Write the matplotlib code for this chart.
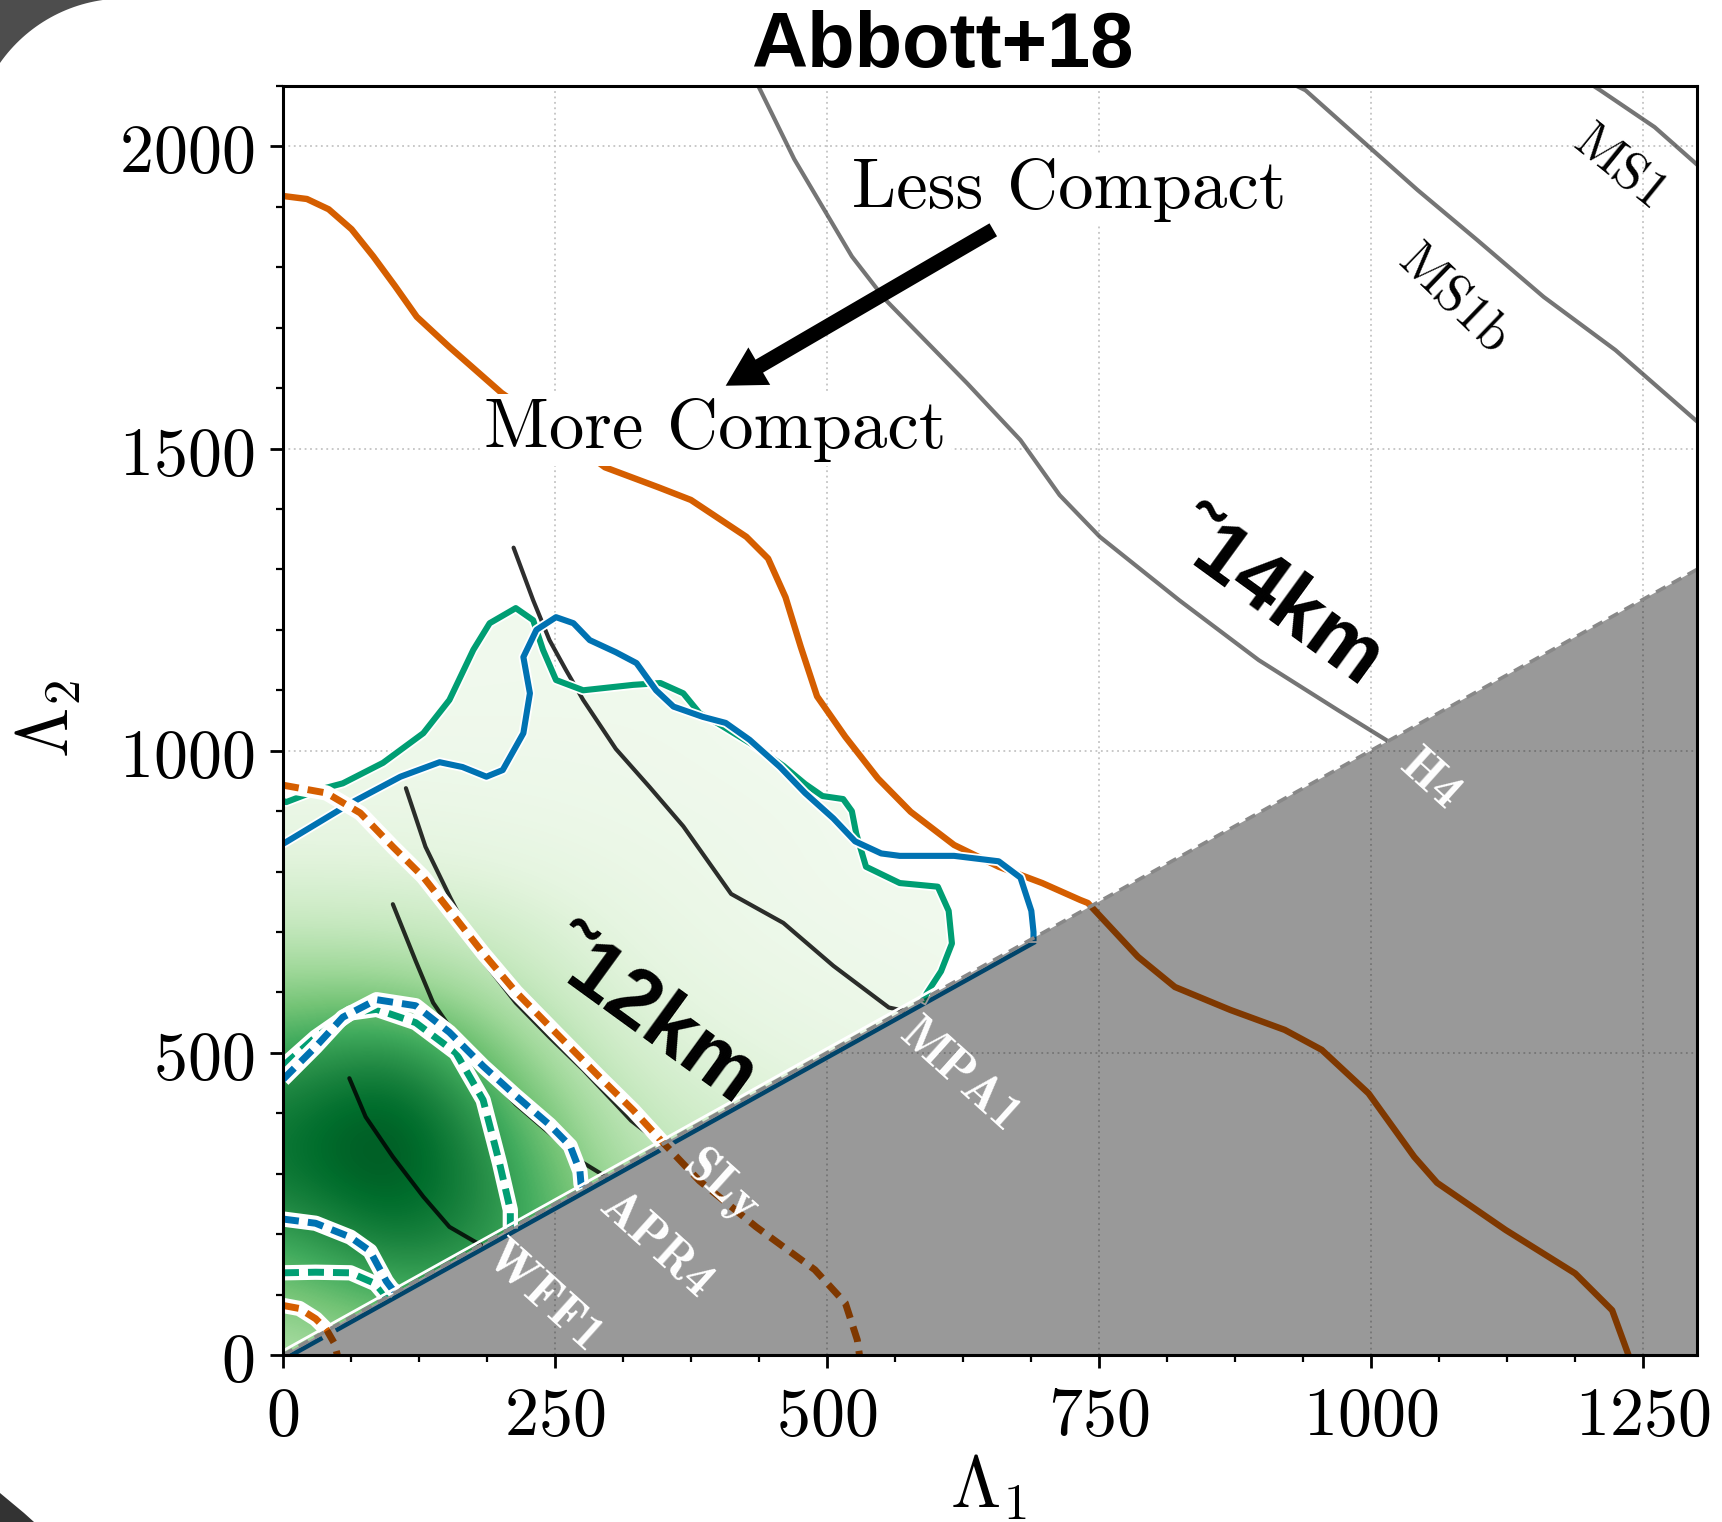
import numpy as np
import matplotlib
matplotlib.use("Agg")
import matplotlib.pyplot as plt
from matplotlib.patches import Polygon
from matplotlib.ticker import MultipleLocator, FuncFormatter
import matplotlib.patheffects as pe

plt.rcParams['mathtext.fontset'] = 'cm'
plt.rcParams['lines.solid_joinstyle'] = 'round'
plt.rcParams['lines.dash_joinstyle'] = 'round'

ORANGE = '#d55e00'
BLUE = '#0072b2'
GREEN = '#009e73'

# ---- 90% credible contours (solid) ----
orange90_l1 = [0, 22, 42, 63, 83, 103, 123, 153, 201, 250, 296, 345, 375, 426, 446, 462, 476, 491,
               517, 547, 577, 617, 658, 698, 733, 740, 786, 820, 871, 921, 955, 998, 1040, 1061,
               1124, 1188, 1222, 1237]
orange90_l2 = [1918, 1913, 1896, 1863, 1818, 1769, 1718, 1668, 1592, 1530, 1469, 1436, 1415, 1354,
               1318, 1254, 1172, 1090, 1023, 954, 899, 844, 808, 781, 753, 748, 659, 609, 571,
               538, 505, 433, 328, 285, 207, 135, 74, 0]

green90_l1 = [0, 3, 32, 55, 92, 129, 153, 175, 190, 214, 230, 239, 251, 276, 322, 347, 368, 383,
              400, 430, 460, 480, 496, 515, 523, 527, 536, 567, 602, 612, 615, 605, 592, 589]
green90_l2 = [917, 915, 935, 946, 980, 1029, 1084, 1167, 1211, 1236, 1216, 1167, 1117, 1100, 1109,
              1112, 1095, 1062, 1045, 1012, 975, 945, 925, 920, 900, 863, 808, 781, 775, 735,
              681, 635, 599, 589]

blue90_l1 = [0, 3, 62, 108, 144, 165, 187, 202, 221, 227, 221, 233, 251, 267, 282, 306, 325, 343,
             359, 386, 407, 429, 457, 480, 506, 526, 550, 567, 617, 658, 678, 688, 690, 690]
blue90_l2 = [846, 849, 913, 957, 981, 973, 957, 968, 1029, 1095, 1155, 1200, 1221, 1211, 1183,
             1163, 1145, 1100, 1073, 1056, 1046, 1018, 973, 930, 888, 850, 830, 826, 826, 817,
             790, 735, 700, 690]

# ---- 50% credible contours (dashed) ----
orange50_l1 = [0, 40, 71, 101, 129, 153, 184, 214, 251, 291, 322, 347, 383, 435, 489, 517, 528, 530]
orange50_l2 = [943, 930, 897, 841, 791, 736, 665, 601, 533, 460, 405, 356, 288, 212, 141, 86, 25, 0]
orange50_in_l1 = [0, 15, 30, 40, 47, 50]
orange50_in_l2 = [82, 77, 60, 42, 20, 0]

green50_l1 = [0, 30, 62, 86, 122, 159, 184, 199, 209, 209]
green50_l2 = [478, 526, 566, 572, 550, 500, 422, 318, 240, 209]
green50_in_l1 = [0, 30, 62, 85, 92, 95]
green50_in_l2 = [136, 137, 136, 118, 103, 95]

blue50_l1 = [0, 30, 55, 86, 122, 153, 184, 214, 245, 264, 273, 274, 276]
blue50_l2 = [456, 510, 559, 588, 578, 534, 478, 429, 381, 346, 304, 283, 276]
blue50_in_l1 = [0, 30, 62, 80, 95, 100, 104]
blue50_in_l2 = [225, 218, 195, 172, 122, 110, 104]

# ---- posterior density (fraction of colormap), coarse grid read from shading ----
dens_l1 = [0, 100, 200, 300, 400, 500, 600, 700]
dens_l2 = [0, 100, 200, 300, 400, 500, 600, 700, 800, 900, 1000, 1100, 1200, 1300]
dens = [
    [0.32, 0.40, 0.45, 0.35, 0.25, 0.18, 0.12, 0.08],
    [0.45, 0.62, 0.60, 0.45, 0.30, 0.22, 0.15, 0.10],
    [0.64, 0.88, 0.72, 0.42, 0.30, 0.22, 0.16, 0.11],
    [0.82, 1.00, 0.72, 0.34, 0.24, 0.18, 0.14, 0.10],
    [0.80, 1.00, 0.62, 0.28, 0.19, 0.14, 0.11, 0.08],
    [0.64, 0.80, 0.46, 0.21, 0.14, 0.10, 0.08, 0.06],
    [0.44, 0.46, 0.31, 0.16, 0.10, 0.08, 0.06, 0.05],
    [0.27, 0.26, 0.22, 0.12, 0.08, 0.06, 0.05, 0.04],
    [0.15, 0.15, 0.13, 0.09, 0.07, 0.05, 0.04, 0.04],
    [0.09, 0.09, 0.08, 0.07, 0.06, 0.05, 0.04, 0.04],
    [0.06, 0.06, 0.06, 0.06, 0.05, 0.04, 0.04, 0.04],
    [0.05, 0.05, 0.05, 0.05, 0.05, 0.04, 0.04, 0.04],
    [0.04, 0.04, 0.05, 0.05, 0.04, 0.04, 0.04, 0.04],
    [0.04, 0.04, 0.04, 0.04, 0.04, 0.04, 0.04, 0.04],
]

# ---- equation-of-state tracks ----
wff1_l1 = [61, 76, 101, 129, 153, 175, 182]
wff1_l2 = [458, 394, 328, 262, 212, 189, 182]
apr4_l1 = [101, 122, 138, 160, 184, 214, 245, 276, 296]
apr4_l2 = [746, 652, 583, 525, 472, 415, 367, 318, 296]
sly_l1 = [113, 131, 154, 184, 214, 245, 276, 306, 320, 347]
sly_l2 = [938, 841, 756, 652, 583, 526, 472, 415, 388, 350]
mpa1_l1 = [212, 230, 245, 260, 276, 306, 337, 368, 412, 460, 506, 557, 570]
mpa1_l2 = [1336, 1249, 1183, 1134, 1084, 1003, 940, 875, 763, 715, 644, 575, 570]
h4_l1 = [437, 470, 523, 554, 629, 678, 714, 751, 824, 897, 970, 1014]
h4_l2 = [2100, 1979, 1818, 1746, 1608, 1514, 1423, 1354, 1249, 1150, 1067, 1018]
ms1b_l1 = [932, 940, 988, 1043, 1098, 1159, 1225, 1300]
ms1b_l2 = [2100, 2093, 2016, 1928, 1845, 1751, 1663, 1545]
ms1_l1 = [1205, 1211, 1261, 1300]
ms1_l2 = [2100, 2093, 2032, 1970]

eos_names = ['WFF1', 'APR4', 'SLy', 'MPA1', 'H4']
eos_label_l1 = [239, 342, 402, 622, 1054]
eos_label_l2 = [96, 182, 278, 462, 952]

fig = plt.figure(figsize=(17.22, 15.22), dpi=100)
ax = fig.add_axes([283 / 1722, 1 - 1355 / 1522, 1414 / 1722, 1269 / 1522])

# grid
ax.grid(True, which='major', ls=(0, (1, 2)), color='#c4c4c4', lw=1.3, zorder=0.5)
ax.set_axisbelow(True)

# density shading clipped to the outer green contour
clip_pts = list(zip(green90_l1, green90_l2)) + [(0, 0)]
clip_poly = Polygon(clip_pts, closed=True, transform=ax.transData)
im = ax.imshow(np.array(dens), origin='lower', cmap='Greens', vmin=0, vmax=1,
               extent=[dens_l1[0] - 50, dens_l1[-1] + 50, dens_l2[0] - 50, dens_l2[-1] + 50],
               interpolation='bicubic', aspect='auto', zorder=1)
im.set_clip_path(clip_poly)

# EOS tracks
for l1, l2 in [(wff1_l1, wff1_l2), (apr4_l1, apr4_l2), (sly_l1, sly_l2), (mpa1_l1, mpa1_l2)]:
    ax.plot(l1, l2, color='black', lw=3, alpha=0.82, zorder=2, solid_capstyle='round')
for l1, l2 in [(h4_l1, h4_l2), (ms1b_l1, ms1b_l2), (ms1_l1, ms1_l2)]:
    ax.plot(l1, l2, color='#3a3a3a', lw=3, alpha=0.7, zorder=2)

# solid 90% contours
white_edge = [pe.Stroke(linewidth=7, foreground='white'), pe.Normal()]
ax.plot(orange90_l1, orange90_l2, color=ORANGE, lw=4.6, zorder=3)
ax.plot(green90_l1, green90_l2, color=GREEN, lw=4.4, zorder=3.1, path_effects=white_edge)
ax.plot(blue90_l1, blue90_l2, color=BLUE, lw=4.4, zorder=3.2, path_effects=white_edge)

# dashed 50% contours with white underlay
dashed = [(orange50_l1, orange50_l2, ORANGE), (orange50_in_l1, orange50_in_l2, ORANGE),
          (green50_l1, green50_l2, GREEN), (green50_in_l1, green50_in_l2, GREEN),
          (blue50_l1, blue50_l2, BLUE), (blue50_in_l1, blue50_in_l2, BLUE)]
for i, (l1, l2, c) in enumerate(dashed):
    ax.plot(l1, l2, color='white', lw=11, zorder=3.5 + 0.1 * i, solid_capstyle='butt')
    ax.plot(l1, l2, color=c, lw=5, dashes=(2.3, 1.3), zorder=3.55 + 0.1 * i)

# blue contour edge along the diagonal
ax.plot([8, 690], [0, 682], color=BLUE, lw=3.2, zorder=3)
ax.plot([0, 600], [7, 607], color='white', lw=2, zorder=4.4)

# excluded region
ax.add_patch(Polygon([(0, 0), (1300, 1300), (1300, 0)], closed=True, fc='black',
                     alpha=0.4, ec='none', zorder=5))
ax.plot([0, 1300], [0, 1300], color='#888888', lw=2.6, dashes=(3, 2), zorder=5.5)

# EOS labels
for name, x, y in zip(eos_names, eos_label_l1, eos_label_l2):
    ax.text(x, y, name, color='white', family='cmb10', size=36, rotation=-42,
            ha='center', va='center', zorder=6)
ax.text(1229, 1964, 'MS1', color='black', family='cmr10', size=38, rotation=-39,
        ha='center', va='center', zorder=6)
ax.text(1076, 1746, 'MS1b', color='black', family='cmr10', size=38, rotation=-44,
        ha='center', va='center', zorder=6)

ax.text(338, 561, '\u02dc12km', family='Liberation Sans', weight='bold', size=60,
        rotation=-36, ha='center', va='center', zorder=6)
ax.text(914, 1253, '\u02dc14km', family='Liberation Sans', weight='bold', size=60,
        rotation=-36, ha='center', va='center', zorder=6)

# compactness annotation
box = dict(facecolor='white', edgecolor='none', pad=3)
ax.text(523, 1898, 'Less Compact', family='cmr10', size=51, ha='left', va='baseline',
        bbox=box, zorder=7)
ax.text(185, 1501, 'More Compact', family='cmr10', size=51, ha='left', va='baseline',
        bbox=box, zorder=7)
ax.annotate('', xy=(407, 1604), xytext=(653, 1862),
            arrowprops=dict(arrowstyle='simple,head_length=0.7,head_width=0.78,tail_width=0.27',
                            mutation_scale=40, fc='black', ec='none', shrinkA=0, shrinkB=0),
            zorder=8)

ax.set_xlim(0, 1300)
ax.set_ylim(0, 2100)
ax.xaxis.set_major_locator(MultipleLocator(250))
ax.xaxis.set_minor_locator(MultipleLocator(62.5))
ax.yaxis.set_major_locator(MultipleLocator(500))
ax.yaxis.set_minor_locator(MultipleLocator(100))
fmt = FuncFormatter(lambda v, p: r'$%d$' % v)
ax.xaxis.set_major_formatter(fmt)
ax.yaxis.set_major_formatter(fmt)
ax.tick_params(which='major', direction='out', length=9.5, width=2, labelsize=49, pad=11,
               top=False, right=False)
ax.tick_params(which='minor', direction='out', length=5, width=1.6, top=False, right=False)
for s in ax.spines.values():
    s.set_linewidth(2.2)
    s.set_zorder(9)

fig.text(988 / 1722, 1 - 1488 / 1522, r'$\Lambda_1$', size=52, ha='center', va='center')
fig.text(49 / 1722, 1 - 719 / 1522, r'$\Lambda_2$', size=52, rotation=90, ha='center', va='center')
fig.text(942 / 1722, 1 - 47 / 1522, 'Abbott+18', family='Liberation Sans', weight='bold',
         size=56, ha='center', va='center')

# dark rounded frame corners of the slide screenshot
th = np.linspace(np.arctan2(-150, -21), np.arctan2(-87, -124), 30)
arc = [(124 + 151.5 * np.cos(t), 150 + 151.5 * np.sin(t)) for t in th]
corner = [(0, 0)] + arc
fig.add_artist(Polygon([(x / 1722, 1 - y / 1522) for x, y in corner], closed=True,
                       transform=fig.transFigure, fc='#4d4d4d', ec='none'))
corner2 = [(0, 1493), (12, 1503), (24, 1513), (34, 1522), (0, 1522)]
fig.add_artist(Polygon([(x / 1722, 1 - y / 1522) for x, y in corner2], closed=True,
                       transform=fig.transFigure, fc='#333333', ec='none'))

fig.savefig('out.png', dpi=100, facecolor='white')
